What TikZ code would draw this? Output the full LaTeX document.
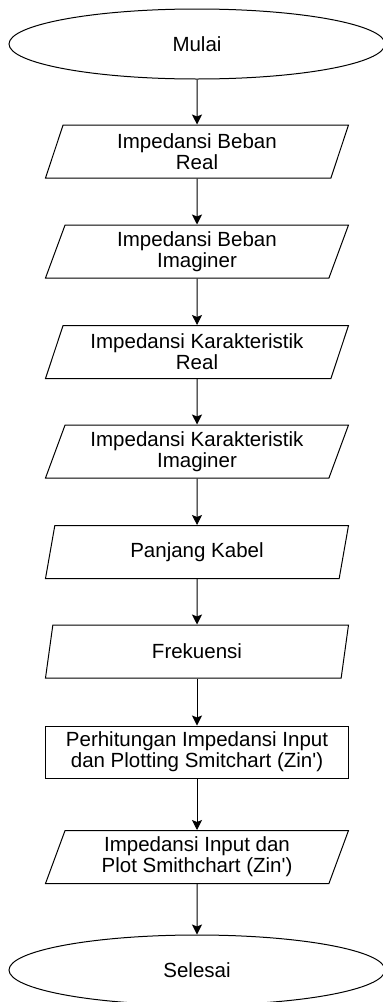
\documentclass[tikz,border=0pt]{standalone}
\usepackage{fontspec}
\setmainfont{Liberation Sans}
\usetikzlibrary{shapes.geometric,arrows.meta}

\begin{document}
\begin{tikzpicture}[x=1pt, y=-1pt, line width=1pt,
  every node/.style={font=\fontsize{20.5}{21}\selectfont, align=center, inner sep=0pt},
  term/.style={draw, ellipse, minimum width=376pt, minimum height=70pt},
  io/.style={draw, trapezium, trapezium left angle=64, trapezium right angle=116,
    trapezium stretches body, minimum width=303pt, minimum height=53pt},
  proc/.style={draw, rectangle, minimum width=303pt, minimum height=52pt},
  arr/.style={-{Stealth[length=10pt, width=10pt, inset=2pt]}}]
\useasboundingbox (0,0) rectangle (383,1002);

\node[term] (mulai) at (197,44) {Mulai};
\node[io] (zlre) at (197,151.5) {Impedansi Beban\\Real};
\node[io] (zlim) at (197,251.5) {Impedansi Beban\\Imaginer};
\node[io] (z0re) at (197,352) {Impedansi Karakteristik\\Real};
\node[io] (z0im) at (197,451.5) {Impedansi Karakteristik\\Imaginer};
\node[io] (kabel) at (197,552) {Panjang Kabel};
\node[io] (frek) at (197,651.5) {Frekuensi};
\node[proc] (hitung) at (197,752) {Perhitungan Impedansi Input\\dan Plotting Smitchart (Zin\textquotesingle)};
\node[io] (zin) at (197,857) {Impedansi Input dan\\Plot Smithchart (Zin\textquotesingle)};
\node[term] (selesai) at (197,970) {Selesai};

\draw[arr] (mulai) -- (zlre);
\draw[arr] (zlre) -- (zlim);
\draw[arr] (zlim) -- (z0re);
\draw[arr] (z0re) -- (z0im);
\draw[arr] (z0im) -- (kabel);
\draw[arr] (kabel) -- (frek);
\draw[arr] (frek) -- (hitung);
\draw[arr] (hitung) -- (zin);
\draw[arr] (zin) -- (selesai);
\end{tikzpicture}
\end{document}
